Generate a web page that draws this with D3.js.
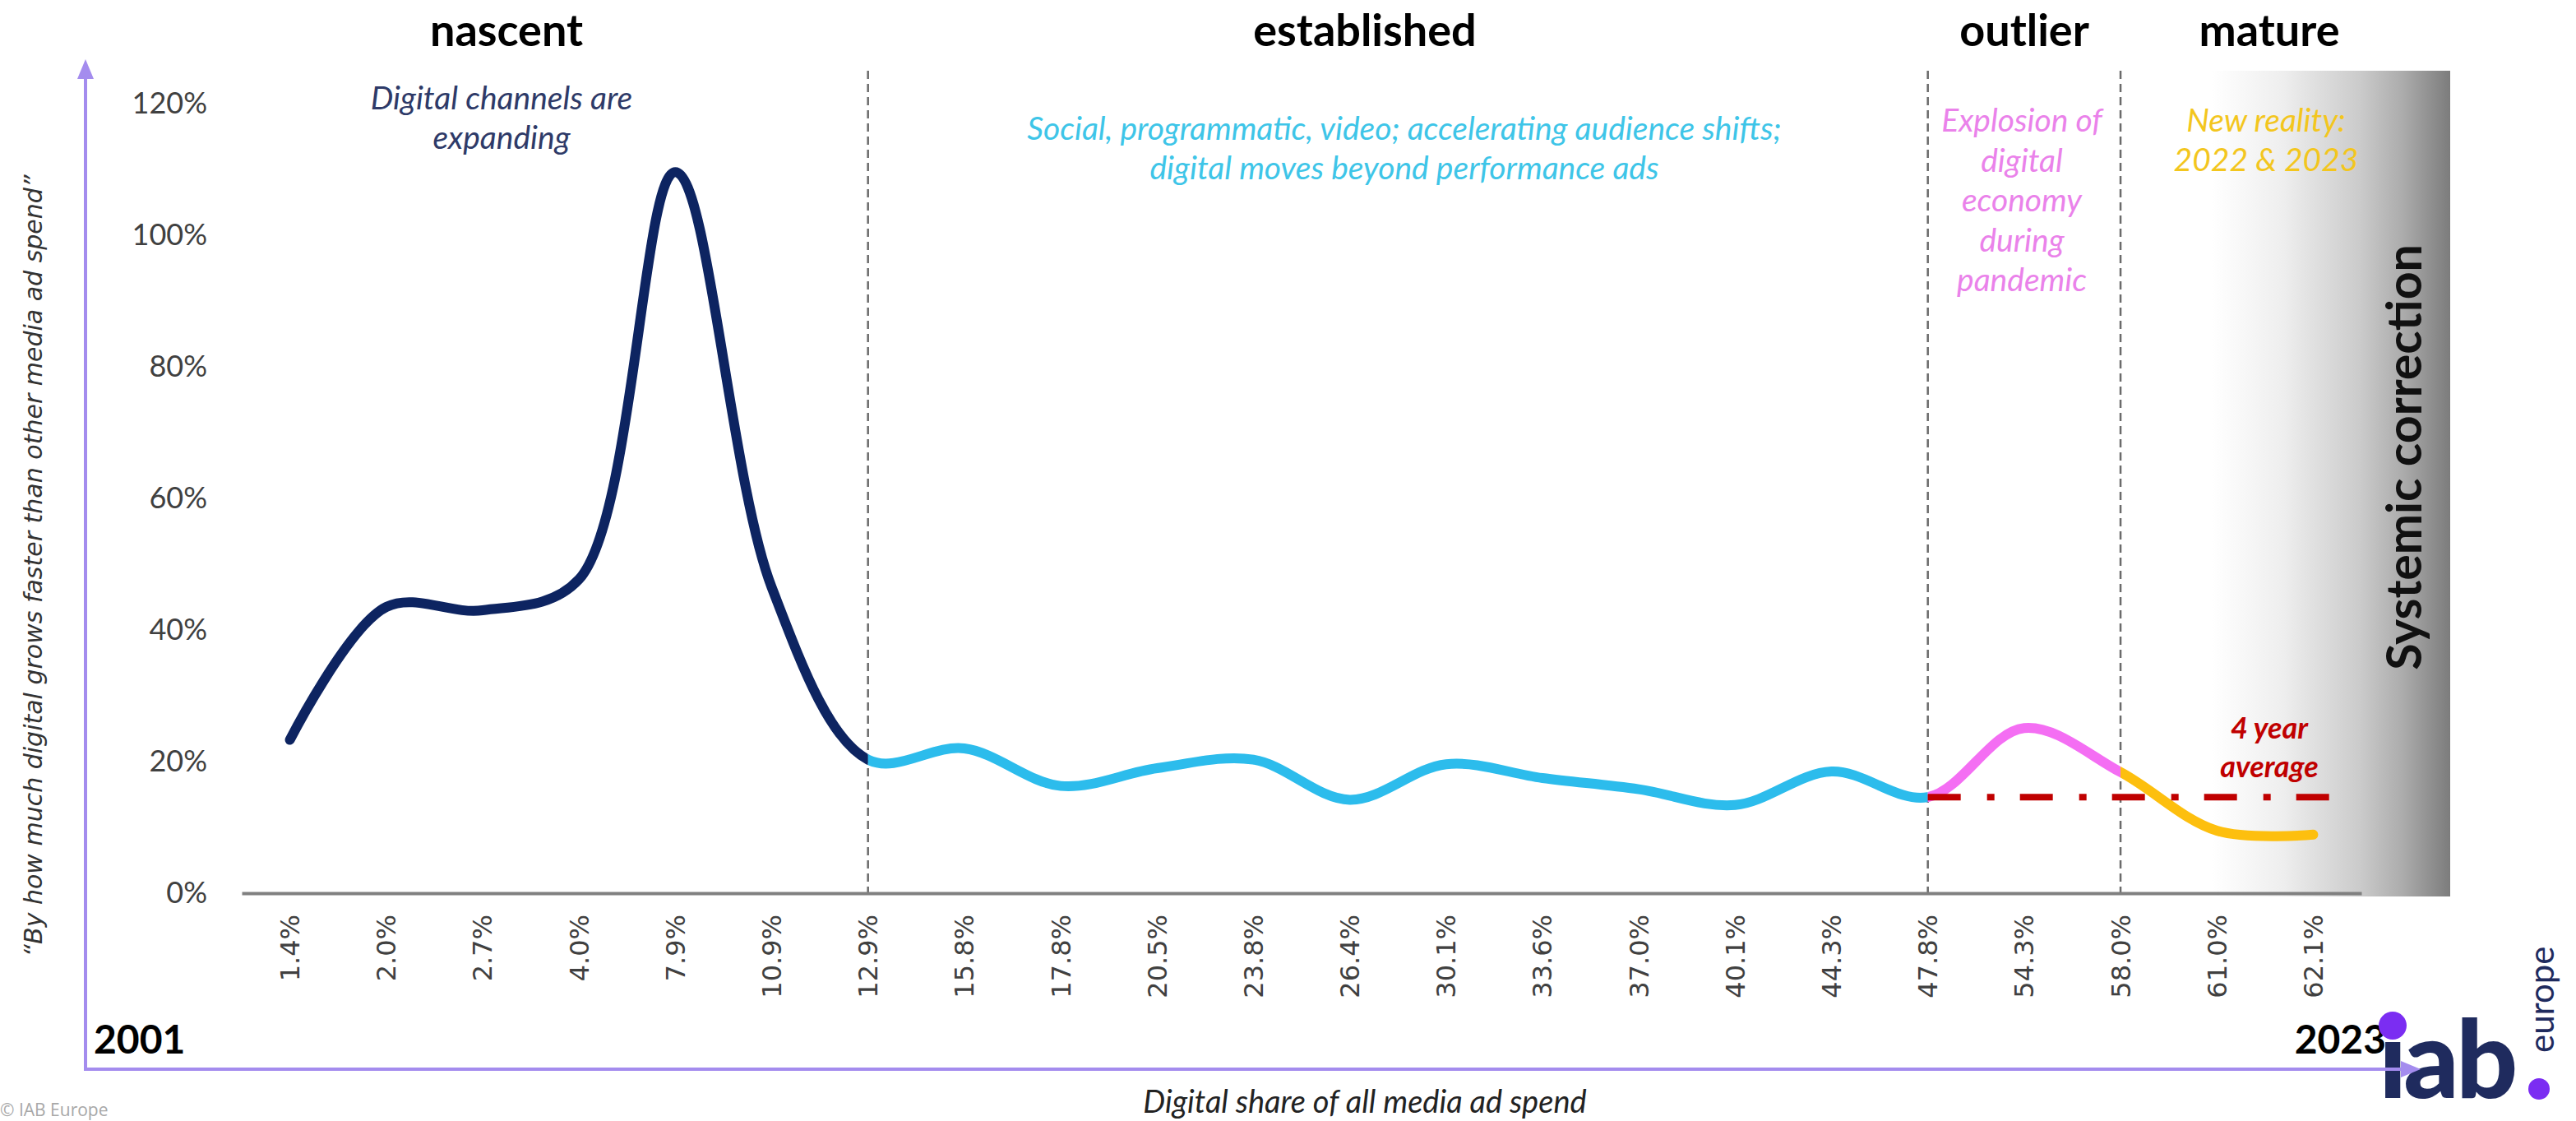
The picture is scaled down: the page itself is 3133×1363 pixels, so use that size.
<!DOCTYPE html>
<html>
<head>
<meta charset="utf-8">
<script src="https://cdn.jsdelivr.net/npm/d3@7"></script>
<style>
  html, body { margin: 0; padding: 0; background: #ffffff; }
  svg { display: block; }
</style>
</head>
<body>
<svg id="chart" width="3133" height="1363"></svg>
<script>
// ---------------- DATA ----------------
const categories = ["1.4%","2.0%","2.7%","4.0%","7.9%","10.9%","12.9%","15.8%","17.8%","20.5%","23.8%","26.4%","30.1%","33.6%","37.0%","40.1%","44.3%","47.8%","54.3%","58.0%","61.0%","62.1%"];
const growthPremium = [0.233,0.435,0.430,0.477,1.096,0.465,0.203,0.220,0.163,0.190,0.203,0.142,0.196,0.175,0.158,0.134,0.185,0.146,0.251,0.184,0.095,0.089];
const yTickValues = [0, 0.2, 0.4, 0.6, 0.8, 1.0, 1.2];
const phaseNames = ["nascent", "established", "outlier", "mature"];
const phaseStarts = ["1.4%", "12.9%", "47.8%", "58.0%"];
const phaseEnds = ["12.9%", "47.8%", "58.0%", "62.1%"];
const phaseColors = ["#0d2461", "#2cbcec", "#f46ef3", "#fdbf0e"];
const phaseBoundaries = ["12.9%", "47.8%", "58.0%"];
const fourYearAverage = 0.146;
const averageSpan = ["47.8%", "62.1%"];
const phaseNotes = [
  ["Digital channels are", "expanding"],
  ["Social, programmatic, video; accelerating audience shifts;", "digital moves beyond performance ads"],
  ["Explosion of", "digital", "economy", "during", "pandemic"],
  ["New reality:", "2022 & 2023"]
];
const noteColors = ["#2e3a68", "#3ec5e8", "#ea82ea", "#f3c61e"];
const averageLabel = ["4 year", "average"];
const startYear = "2001";
const endYear = "2023";

// ---------------- LAYOUT ----------------
const svg = d3.select("#chart");
const W = 3133, H = 1363;
const plotLeft = 294, plotRight = 2872, yZero = 1086, yTop = 126;
const calibriLike = "Lato, 'Open Sans', sans-serif";

const x = d3.scaleBand().domain(categories).range([plotLeft, plotRight]).paddingInner(0).paddingOuter(0);
const xc = c => x(c) + x.bandwidth() / 2;
const y = d3.scaleLinear().domain([0, 1.2]).range([yZero, yTop]);

const defs = svg.append("defs");

// gradient band "Systemic correction"
const grad = defs.append("linearGradient").attr("id", "sysgrad").attr("x1", "0").attr("x2", "1").attr("y1", "0").attr("y2", "0");
[[0, "#ffffff"], [0.3, "#eeeeee"], [0.62, "#cbcbcb"], [0.8, "#acacac"], [1, "#7c7c7c"]]
  .forEach(([o, c]) => grad.append("stop").attr("offset", o).attr("stop-color", c));

svg.append("rect")
  .attr("x", 2690).attr("y", 86).attr("width", 290).attr("height", 1004)
  .attr("fill", "url(#sysgrad)");

svg.append("text")
  .attr("transform", "translate(2922,556) rotate(-90)")
  .attr("text-anchor", "middle").attr("dominant-baseline", "central")
  .attr("font-family", calibriLike).attr("font-weight", 700).attr("font-size", 59)
  .attr("fill", "#111").text("Systemic correction");

// dashed phase boundaries
svg.append("g").selectAll("line").data(phaseBoundaries).join("line")
  .attr("x1", d => xc(d)).attr("x2", d => xc(d))
  .attr("y1", 86).attr("y2", yZero)
  .attr("stroke", "#6b6b6b").attr("stroke-width", 2.5).attr("stroke-dasharray", "10,6");

// y axis
const yAxis = svg.append("g").attr("transform", "translate(262,0)")
  .call(d3.axisLeft(y).tickValues(yTickValues).tickFormat(d3.format(".0%")).tickSize(0).tickPadding(10));
yAxis.select(".domain").remove();
yAxis.selectAll("text").attr("font-family", calibriLike).attr("font-size", 36).attr("fill", "#404040");

// x axis
const xAxis = svg.append("g").attr("transform", `translate(0,${yZero})`)
  .call(d3.axisBottom(x).tickSize(0).tickSizeOuter(0));
xAxis.select(".domain").attr("stroke", "#808080").attr("stroke-width", 4);
xAxis.selectAll("text")
  .attr("transform", "rotate(-90)")
  .attr("x", -26).attr("y", 0).attr("dy", "0.36em")
  .attr("text-anchor", "end")
  .attr("font-family", "'DejaVu Sans', Verdana, sans-serif").attr("font-size", 32).attr("fill", "#404040");

// main smoothed line, coloured per phase via clip paths
const pts = categories.map((c, i) => [xc(c), y(growthPremium[i])]);
const lineGen = d3.line().curve(d3.curveCatmullRom.alpha(0.5));
phaseNames.forEach((p, i) => {
  const x0 = i === 0 ? 0 : xc(phaseStarts[i]);
  const x1 = i === phaseNames.length - 1 ? W : xc(phaseEnds[i]);
  defs.append("clipPath").attr("id", "clip" + i)
    .append("rect").attr("x", x0).attr("y", 0).attr("width", x1 - x0).attr("height", H);
  svg.append("path")
    .attr("d", lineGen(pts))
    .attr("fill", "none").attr("stroke", phaseColors[i]).attr("stroke-width", 12)
    .attr("stroke-linecap", "round").attr("stroke-linejoin", "round")
    .attr("clip-path", `url(#clip${i})`);
});

// 4 year average line
svg.append("line")
  .attr("x1", xc(averageSpan[0])).attr("x2", xc(averageSpan[1]) + 22)
  .attr("y1", y(fourYearAverage)).attr("y2", y(fourYearAverage))
  .attr("stroke", "#c00000").attr("stroke-width", 8).attr("stroke-dasharray", "40,32,9,31");

const avgText = svg.append("text")
  .attr("font-family", calibriLike).attr("font-style", "italic").attr("font-weight", 700)
  .attr("font-size", 36).attr("fill", "#c00000").attr("text-anchor", "middle");
averageLabel.forEach((t, i) => avgText.append("tspan").attr("x", 2760).attr("y", 898 + i * 47).text(t));

// phase headers
const headerX = [616, 1660, 2462, 2760];
svg.append("g").selectAll("text").data(phaseNames).join("text")
  .attr("x", (d, i) => headerX[i]).attr("y", 56)
  .attr("text-anchor", "middle")
  .attr("font-family", calibriLike).attr("font-weight", 700).attr("font-size", 54)
  .attr("fill", "#000").text(d => d);

// phase notes
const noteX = [610, 1708, 2459, 2756];
const noteY = [133, 170, 160, 160];
const noteStep = [48, 48, 48.5, 48];
phaseNotes.forEach((lines, i) => {
  const t = svg.append("text")
    .attr("font-family", calibriLike).attr("font-style", "italic").attr("font-size", 39)
    .attr("fill", noteColors[i]).attr("text-anchor", "middle");
  lines.forEach((l, j) => t.append("tspan").attr("x", noteX[i]).attr("y", noteY[i] + j * noteStep[i]).text(l));
});

// axis arrows (purple)
const arrowColor = "#a48cee";
svg.append("line").attr("x1", 104).attr("x2", 104).attr("y1", 1300).attr("y2", 92)
  .attr("stroke", arrowColor).attr("stroke-width", 4);
svg.append("path").attr("d", "M104,72 L94,96 L114,96 Z").attr("fill", arrowColor);

// y title
svg.append("text")
  .attr("transform", "translate(40,688) rotate(-90)")
  .attr("text-anchor", "middle").attr("dominant-baseline", "central")
  .attr("font-family", "'DejaVu Sans', Verdana, sans-serif").attr("font-style", "italic")
  .attr("font-size", 30).attr("fill", "#333")
  .text("\u201CBy how much digital grows faster than other media ad spend\u201D");

// years
svg.append("text").attr("x", 114).attr("y", 1281)
  .attr("font-family", calibriLike).attr("font-weight", 700).attr("font-size", 48).attr("fill", "#000").text(startYear);
svg.append("text").attr("x", 2902).attr("y", 1281).attr("text-anchor", "end")
  .attr("font-family", calibriLike).attr("font-weight", 700).attr("font-size", 48).attr("fill", "#000").text(endYear);

// x title
svg.append("text").attr("x", 1660).attr("y", 1353).attr("text-anchor", "middle")
  .attr("font-family", calibriLike).attr("font-style", "italic").attr("font-size", 38).attr("fill", "#222")
  .text("Digital share of all media ad spend");

// copyright
svg.append("text").attr("x", 0).attr("y", 1357)
  .attr("font-family", "'Open Sans', sans-serif").attr("font-size", 21).attr("fill", "#a8a8a8")
  .text("\u00A9 IAB Europe");

// logo
const navyLogo = "#1f2b5e", purpleLogo = "#7b2df2";
svg.append("text").attr("x", 2893).attr("y", 1335)
  .attr("font-family", calibriLike).attr("font-weight", 900).attr("font-size", 132)
  .attr("letter-spacing", -4).attr("fill", navyLogo).text("iab");
svg.append("circle").attr("cx", 2910).attr("cy", 1247).attr("r", 17).attr("fill", purpleLogo);
svg.append("circle").attr("cx", 3088).attr("cy", 1324).attr("r", 13).attr("fill", purpleLogo);
svg.append("text").attr("transform", "translate(3106,1280) rotate(-90)")
  .attr("font-family", calibriLike).attr("font-size", 42).attr("fill", navyLogo).text("europe");

// horizontal arrow on top
svg.append("line").attr("x1", 102).attr("x2", 2925).attr("y1", 1300).attr("y2", 1300)
  .attr("stroke", arrowColor).attr("stroke-width", 4);
svg.append("path").attr("d", "M2944,1300 L2920,1290 L2920,1310 Z").attr("fill", arrowColor);
</script>
</body>
</html>
